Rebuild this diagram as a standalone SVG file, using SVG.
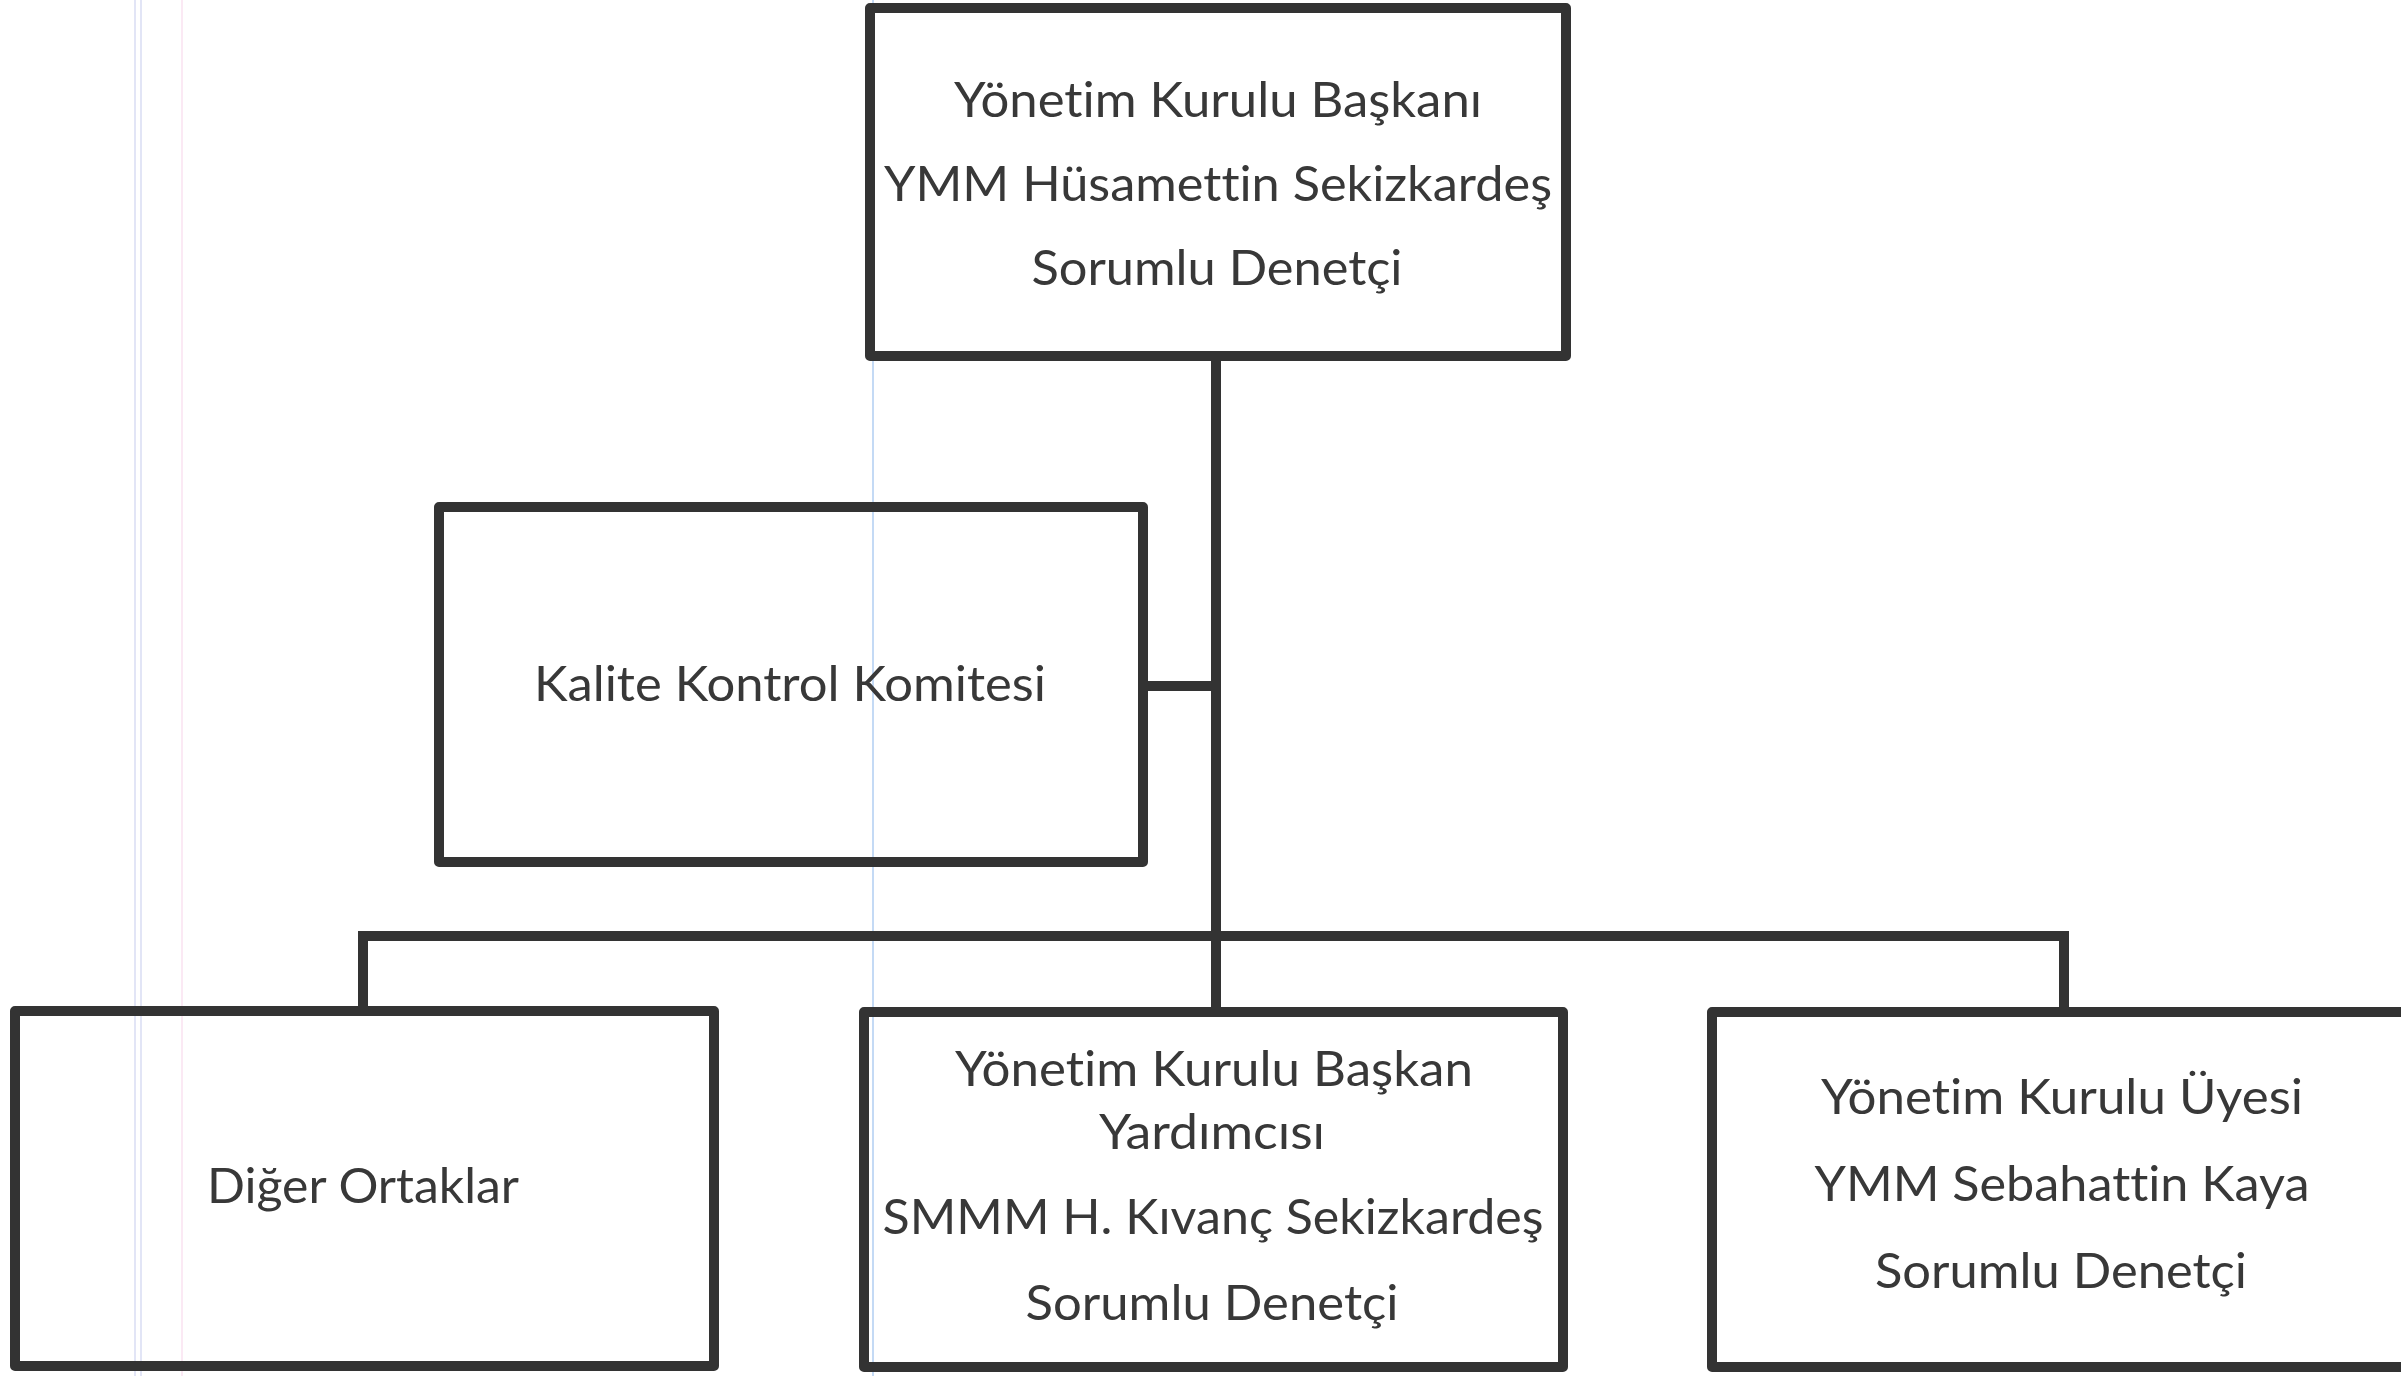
<svg xmlns="http://www.w3.org/2000/svg" width="2401" height="1376" viewBox="0 0 2401 1376">
<style>
.box{fill:none;stroke:#333333;stroke-width:10;stroke-linejoin:round}
.wire{fill:none;stroke:#333333;stroke-width:10;stroke-linejoin:miter}
.t{font-family:Lato,"Open Sans","Liberation Sans",sans-serif;font-size:49px;fill:#383838;text-anchor:middle;font-variant-ligatures:none;font-feature-settings:"liga" 0,"clig" 0}
.scan{stroke-width:2;fill:none}
</style>
<rect x="0" y="0" width="2401" height="1376" fill="#ffffff"/>
<g id="scan-lines">
<line class="scan" x1="135" y1="0" x2="135" y2="1376" stroke="#e2e5f6"/>
<line class="scan" x1="141" y1="0" x2="141" y2="1376" stroke="#e2e5f6"/>
<line class="scan" x1="182" y1="0" x2="182" y2="1376" stroke="#fbe9f4"/>
<line class="scan" x1="873" y1="0" x2="873" y2="1376" stroke="#c4daf5"/>
</g>
<g id="connectors">
<path class="wire" d="M1216 355 V1012"/>
<path class="wire" d="M1143 686 H1216"/>
<path class="wire" d="M363 1011 V936 H2064 V1012"/>
</g>
<g id="node-baskan">
<rect class="box" x="870" y="8" width="696" height="348"/>
<text class="t" x="1218" y="117" textLength="528" lengthAdjust="spacingAndGlyphs">Yönetim Kurulu Başkanı</text>
<text class="t" x="1218" y="201" textLength="668" lengthAdjust="spacingAndGlyphs">YMM Hüsamettin Sekizkardeş</text>
<text class="t" x="1217" y="285" textLength="371" lengthAdjust="spacingAndGlyphs">Sorumlu Denetçi</text>
</g>
<g id="node-kalite">
<rect class="box" x="439" y="507" width="704" height="355"/>
<text class="t" x="790" y="701" textLength="512" lengthAdjust="spacingAndGlyphs">Kalite Kontrol Komitesi</text>
</g>
<g id="node-diger">
<rect class="box" x="15" y="1011" width="699" height="355"/>
<text class="t" x="363" y="1203" textLength="312" lengthAdjust="spacingAndGlyphs">Diğer Ortaklar</text>
</g>
<g id="node-yardimci">
<rect class="box" x="864" y="1012" width="699" height="355"/>
<text class="t" x="1214" y="1086" textLength="518" lengthAdjust="spacingAndGlyphs">Yönetim Kurulu Başkan</text>
<text class="t" x="1212" y="1149" textLength="226" lengthAdjust="spacingAndGlyphs">Yardımcısı</text>
<text class="t" x="1213" y="1234" textLength="661" lengthAdjust="spacingAndGlyphs">SMMM H. Kıvanç Sekizkardeş</text>
<text class="t" x="1212" y="1320" textLength="373" lengthAdjust="spacingAndGlyphs">Sorumlu Denetçi</text>
</g>
<g id="node-uye">
<rect class="box" x="1712" y="1012" width="702" height="355"/>
<text class="t" x="2062" y="1114" textLength="482" lengthAdjust="spacingAndGlyphs">Yönetim Kurulu Üyesi</text>
<text class="t" x="2062" y="1201" textLength="495" lengthAdjust="spacingAndGlyphs">YMM Sebahattin Kaya</text>
<text class="t" x="2061" y="1288" textLength="372" lengthAdjust="spacingAndGlyphs">Sorumlu Denetçi</text>
</g>
</svg>
